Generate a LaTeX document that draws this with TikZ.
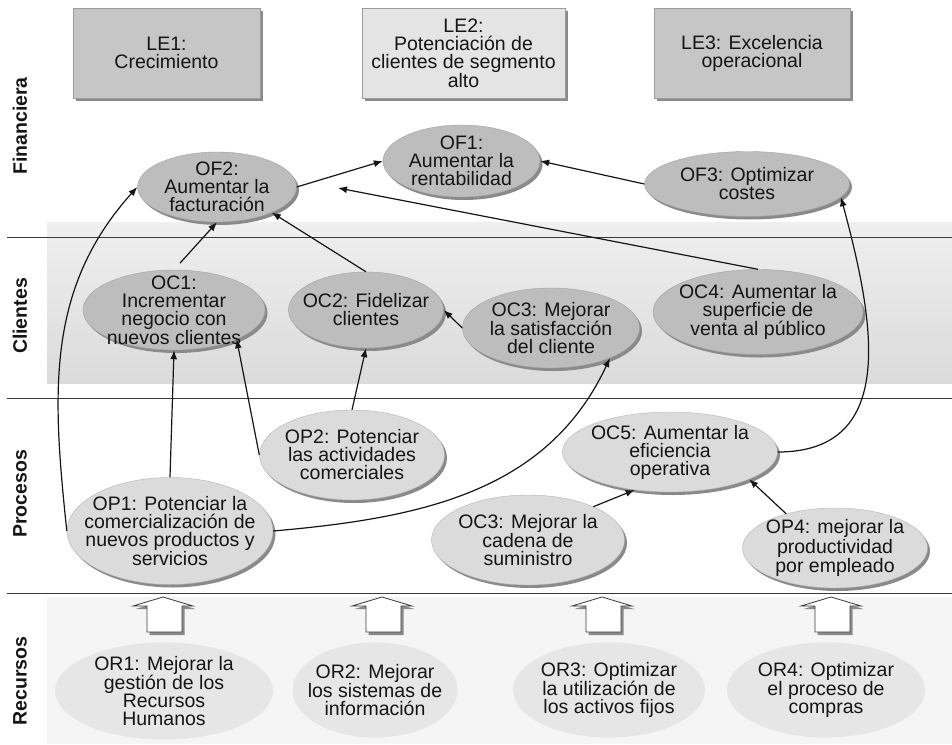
\documentclass[tikz,border=0pt]{standalone}
\usepackage{fontspec}
\setmainfont{Liberation Sans}
\usepackage{tikz}
\usetikzlibrary{arrows.meta,shapes.geometric,shadows}
\definecolor{ink}{HTML}{151515}
\definecolor{rulegrey}{HTML}{3A3A3A}
\definecolor{ledark}{HTML}{C6C6C6}
\definecolor{lelight}{HTML}{E4E4E4}
\definecolor{leedge}{HTML}{9C9C9C}
\definecolor{objfill}{HTML}{BDBDBD}
\definecolor{objedge}{HTML}{A2A2A2}
\definecolor{profill}{HTML}{DBDBDB}
\definecolor{proedge}{HTML}{B4B4B4}
\definecolor{recfill}{HTML}{E6E6E6}
\definecolor{recband}{HTML}{F5F5F5}
\definecolor{bandtop}{HTML}{EFEFEF}
\definecolor{bandbot}{HTML}{DBDBDB}
\definecolor{shadowgrey}{HTML}{8A8A8A}
\newcommand\gfont{\fontsize{19.5}{18}\selectfont}

\begin{document}
\begin{tikzpicture}[
  x=1pt, y=-1pt,
  font=\gfont, text=ink,
  sz/.style 2 args={minimum width=#1pt, minimum height=#2pt},
  shad/.style={drop shadow={shadow xshift=2.5pt, shadow yshift=-3pt, fill=shadowgrey, opacity=1}},
  lebox/.style={rectangle, inner sep=0pt, align=center, draw=leedge, thin, shad},
  obj/.style={ellipse, inner sep=-22pt, align=center},
  fin/.style={obj, fill=objfill, draw=objedge, thin, shad},
  pro/.style={obj, fill=profill, draw=proedge, thin, shad},
  rec/.style={obj, fill=recfill},
  persp/.style={rotate=90, font=\gfont\bfseries},
  sep/.style={draw=rulegrey, line width=1pt},
  upblk/.style={fill=white, draw=rulegrey, line width=0.8pt, shad},
  rel/.style={draw=ink, line width=1.2pt, -{Latex[length=9pt,width=7pt]}}
]
\useasboundingbox (0,0) rectangle (952,744);

% ---- bands and separators -----------------------------------------------
\shade[top color=bandtop, bottom color=bandbot] (47,222) rectangle (952,383);
\fill[recband] (47,597) rectangle (952,744);
\draw[sep] (7,237) -- (952,237);
\draw[sep] (7,398) -- (952,398);
\draw[sep] (7,593) -- (952,593);

% ---- perspectives -------------------------------------------------------
\node[persp] (pfin) at (20,126) {Financiera};
\node[persp] (pcli) at (20,316) {Clientes};
\node[persp] (ppro) at (20,494) {Procesos};
\node[persp] (prec) at (20,681) {Recursos};

% ---- strategic lines ----------------------------------------------------
\node[lebox, fill=ledark,  sz={187}{90}] (le1) at (166.5,53) {LE1:\\Crecimiento};
\node[lebox, fill=lelight, sz={203}{90}] (le2) at (463.5,53) {LE2:\\Potenciación de\\clientes de segmento\\alto};
\node[lebox, fill=ledark,  sz={196}{90}] (le3) at (752,53)   {LE3: Excelencia\\operacional};

% ---- financial and customer objectives ----------------------------------
\node[fin, sz={159}{70}] (of2) at (217,187) {OF2:\\Aumentar la\\facturación};
\node[fin, sz={157}{72}] (of1) at (461.5,161) {OF1:\\Aumentar la\\rentabilidad};
\node[fin, sz={205}{65}] (of3) at (747,184) {OF3: Optimizar\\costes};
\node[fin, sz={182}{80}] (oc1) at (174,310) {OC1:\\Incrementar\\negocio con\\nuevos clientes};
\node[fin, sz={155}{76}] (oc2) at (366,310) {OC2: Fidelizar\\clientes};
\node[fin, sz={177}{80}] (oc3) at (551,328) {OC3: Mejorar\\la satisfacción\\del cliente};
\node[fin, sz={210}{85}] (oc4) at (758,312) {OC4: Aumentar la\\superficie de\\venta al público};

% ---- process objectives -------------------------------------------------
\node[pro, sz={185}{90}]  (op2)  at (352,455) {OP2: Potenciar\\las actividades\\comerciales};
\node[pro, sz={206}{107}] (op1)  at (170,531) {OP1: Potenciar la\\comercialización de\\nuevos productos y\\servicios};
\node[pro, sz={215}{80}]  (oc5)  at (670,452) {OC5: Aumentar la\\eficiencia\\operativa};
\node[pro, sz={193}{90}]  (oc3p) at (528,540) {OC3: Mejorar la\\cadena de\\suministro};
\node[pro, sz={185}{80}]  (op4)  at (835,548) {OP4: mejorar la\\productividad\\por empleado};

% ---- resource objectives ------------------------------------------------
\node[rec, sz={218}{97}] (or1) at (164,691) {OR1: Mejorar la\\gestión de los\\Recursos\\Humanos};
\node[rec, sz={165}{95}] (or2) at (375,690) {OR2: Mejorar\\los sistemas de\\información};
\node[rec, sz={192}{95}] (or3) at (609,690) {OR3: Optimizar\\la utilización de\\los activos fijos};
\node[rec, sz={198}{95}] (or4) at (826,690) {OR4: Optimizar\\el proceso de\\compras};

% ---- block arrows -------------------------------------------------------
\draw[upblk] (163,597) -- ++(30,9) -- ++(-11,0) -- ++(0,26) -- ++(-35,0) -- ++(0,-26) -- ++(-14,0) -- cycle;
\draw[upblk] (382,597) -- ++(30,9) -- ++(-11,0) -- ++(0,26) -- ++(-35,0) -- ++(0,-26) -- ++(-14,0) -- cycle;
\draw[upblk] (602,597) -- ++(30,9) -- ++(-11,0) -- ++(0,26) -- ++(-35,0) -- ++(0,-26) -- ++(-14,0) -- cycle;
\draw[upblk] (831,597) -- ++(30,9) -- ++(-11,0) -- ++(0,26) -- ++(-35,0) -- ++(0,-26) -- ++(-14,0) -- cycle;

% ---- relations ----------------------------------------------------------
\coordinate (of2r) at (338,188);
\draw[rel] (of2.east) -- (of1.west);
\draw[rel] (of3.west) -- (of1.east);
\draw[rel] (oc4.north) -- (of2r);
\draw[rel, shorten <=9pt] (oc1.north) -- (of2.south);
\draw[rel] (oc2.north) -- (of2.-25);
\draw[rel] (oc3.west) -- (oc2.east);
\draw[rel] (op1.north) -- (oc1.south);
\draw[rel] (op2.west) -- (oc1.-25);
\draw[rel] (op2.north) -- (oc2.south);
\draw[rel] (op1.west) to[out=96,in=228] (of2.west);
\draw[rel] (op1.east) to[out=5,in=-115] (oc3.-27);
\draw[rel] (oc5.east) to[out=0,in=-75,looseness=1.2] (of3.-8);
\draw[rel] (oc3p.27) -- (oc5.-133);
\draw[rel] (op4.145) -- (oc5.-19);

\end{tikzpicture}
\end{document}
